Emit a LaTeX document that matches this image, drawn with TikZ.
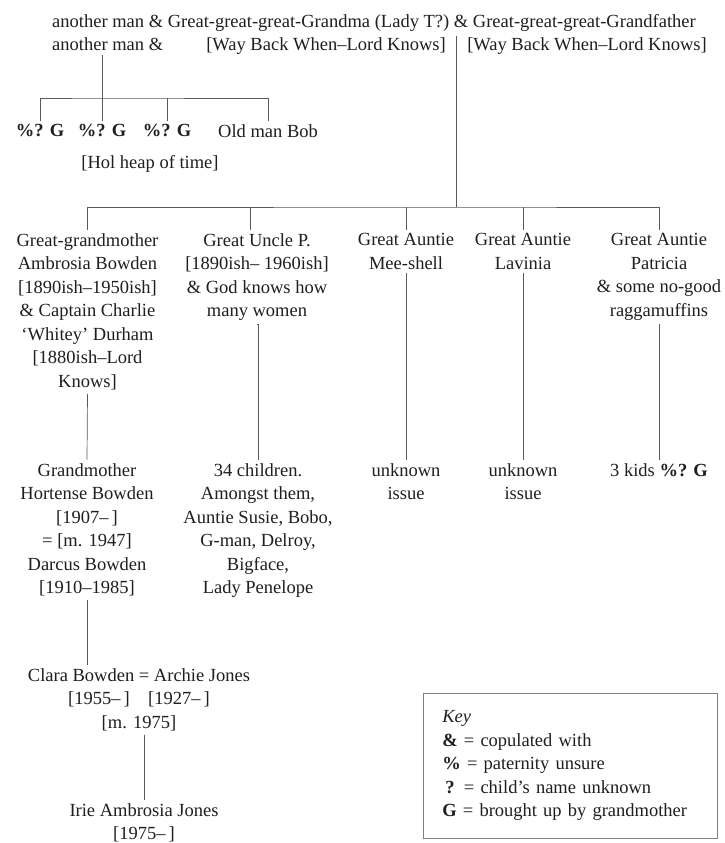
\documentclass[tikz,border=0pt]{standalone}
\usepackage{fontspec}
\setmainfont{Liberation Serif}
\definecolor{ink}{gray}{0.12}
\definecolor{rulec}{gray}{0.35}
\definecolor{boxc}{gray}{0.5}
\begin{document}
\begin{tikzpicture}[x=1pt,y=-1pt,
  lbl/.style={inner xsep=0pt, inner ysep=4pt, outer sep=0pt, anchor=north, align=center, text=ink, font=\fontsize{18.5}{23.5}\selectfont},
  link/.style={draw=rulec, line width=0.7pt}]
\useasboundingbox (0,0) rectangle (725,843);
\fill[white] (0,0) rectangle (725,843);
% top generation
\node[lbl] (gg) at (374,10.5) {another man \& Great-great-great-Grandma (Lady T?) \& Great-great-great-Grandfather};
\coordinate (l2) at (0,33.5);
\node[lbl, anchor=north west] (am2) at (gg.west |- l2) {another man \&};
\node[lbl] (wb1) at (326,33.5) {{[}Way Back When–Lord Knows{]}};
\node[lbl] (wb2) at (587,33.5) {{[}Way Back When–Lord Knows{]}};
% left branch
\coordinate (j1) at (102,98);
\node[lbl] (k1) at (40,120.5) {\textbf{\%? G}};
\node[lbl] (k2) at (102,120.5) {\textbf{\%? G}};
\node[lbl] (k3) at (167,120.5) {\textbf{\%? G}};
\node[lbl] (k4) at (268,120.5) {Old man Bob};
\node[lbl] (hol) at (150,151.5) {{[}Hol heap of time{]}};
\draw[link] (am2.south -| j1) -- (j1);
\draw[link] (k1.north) |- (j1) -| (k4.north);
\draw[link] (j1) -- (k2.north);
\draw[link] (k3.north |- j1) -- (k3.north);
% main branch
\coordinate (j2) at (456,207);
\node[lbl] (p1) at (87.5,229.5) {Great-grandmother\\Ambrosia Bowden\\{[}1890ish–1950ish{]}\\\& Captain Charlie\\‘Whitey’ Durham\\{[}1880ish–Lord\\Knows{]}};
\node[lbl] (p2) at (257,229.5) {Great Uncle P.\\{[}1890ish– 1960ish{]}\\\& God knows how\\many women};
\node[lbl] (p3) at (406,229.5) {Great Auntie\\Mee-shell};
\node[lbl] (p4) at (523,229.5) {Great Auntie\\Lavinia};
\node[lbl] (p5) at (659,229.5) {Great Auntie\\Patricia\\\& some no-good\\raggamuffins};
\draw[link] (gg.south -| j2) -- (j2);
\draw[link] (p1.north) |- (j2) -| (p5.north);
\draw[link] ([xshift=-7pt]p2.north) -- ([xshift=-7pt]p2.north |- j2);
\draw[link] (p3.north) -- (p3.north |- j2);
\draw[link] (p4.north) -- (p4.north |- j2);
% third row
\node[lbl] (q1) at (87,459.5) {Grandmother\\Hortense Bowden\\{[}1907–\,{]}\\= {[}m. 1947{]}\\Darcus Bowden\\{[}1910–1985{]}};
\node[lbl] (q2) at (258,459.5) {34 children.\\Amongst them,\\Auntie Susie, Bobo,\\G-man, Delroy,\\Bigface,\\Lady Penelope};
\node[lbl] (q3) at (406,459.5) {unknown\\issue};
\node[lbl] (q4) at (523,459.5) {unknown\\issue};
\node[lbl] (q5) at (659,459.5) {3 kids \textbf{\%? G}};
\draw[link] (p1.south) -- (q1.north);
\draw[link] (p2.south) -- (p2.south -| q2.north) -- (q2.north);
\draw[link] (p3.south) -- (q3.north);
\draw[link] (p4.south) -- (q4.north);
\draw[link] (p5.south) -- (q5.north);
% Clara and Irie
\node[lbl] (r1) at (139,664.5) {Clara Bowden = Archie Jones\\{[}1955–\,{]}\quad{[}1927–\,{]}\\{[}m. 1975{]}};
\node[lbl] (s1) at (144,799.5) {Irie Ambrosia Jones\\{[}1975–\,{]}};
\draw[link] (q1.south) -- (q1.south |- r1.north);
\draw[link] (r1.south -| s1.north) -- (s1.north);
% key
\node[draw=boxc, line width=0.7pt, anchor=north west, minimum width=294pt, minimum height=145pt,
      inner xsep=19pt, text width=256pt, align=left, text=ink, font=\fontsize{18.5}{23.5}\selectfont] (key) at (423,693)
  {\textit{Key}\\\textbf{\&} = copulated with\\\textbf{\%} = paternity unsure\\\hphantom{\,}\textbf{?} = child’s name unknown\\\textbf{G} = brought up by grandmother};
\end{tikzpicture}
\end{document}
